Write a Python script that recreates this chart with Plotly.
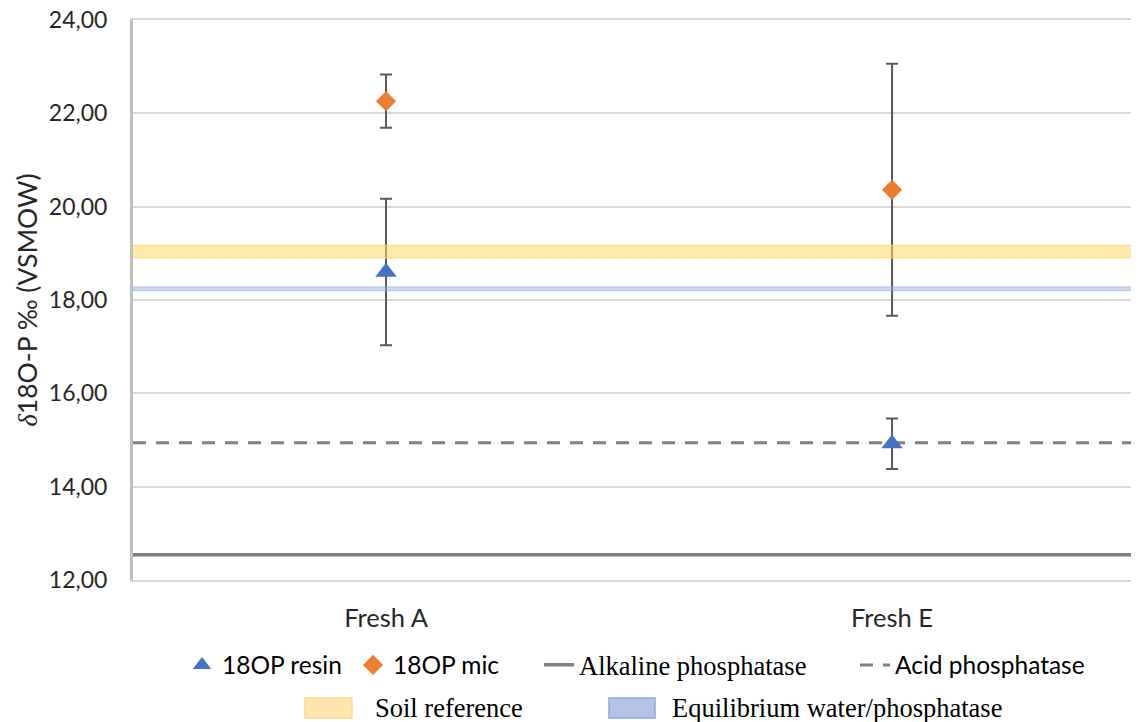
import plotly.graph_objects as go

categories = ["Fresh A", "Fresh E"]
resin_values = [18.60, 14.92]
resin_errors = [1.57, 0.54]
mic_values = [22.26, 20.36]
mic_errors = [0.57, 2.70]
alkaline_value = 12.54
acid_value = 14.94
soil_low, soil_high = 18.90, 19.17
equil_low, equil_high = 18.20, 18.28
y_ticks = [12, 14, 16, 18, 20, 22, 24]

xpos = [0, 1]
x_span = [-0.5, 1.5]

# page body has an 8px margin: figure is shifted by 8px right/down
OFF = 8
FIG_W, FIG_H = 1139 - OFF, 722 - OFF
PLOT_L, PLOT_T, PLOT_W, PLOT_H = 133, 20, 1006, 560   # in screen pixels

def px_x(p):
    return (p - PLOT_L) / PLOT_W

def px_y(p):
    return (PLOT_T + PLOT_H - p) / PLOT_H

SANS = "Lato, 'Open Sans', sans-serif"
SERIF = "'Liberation Serif', 'Times New Roman', serif"

fig = go.Figure()

fig.add_trace(go.Scatter(
    x=x_span, y=[alkaline_value] * 2, mode="lines", name="Alkaline phosphatase",
    line=dict(color="#7f7f7f", width=3.5), legend="legend3", hoverinfo="skip"))
fig.add_trace(go.Scatter(
    x=x_span, y=[acid_value] * 2, mode="lines", name="Acid phosphatase",
    line=dict(color="#808080", width=3, dash="13px,10px"), legend="legend4", hoverinfo="skip"))

fig.add_trace(go.Scatter(
    x=xpos, y=resin_values, mode="markers", name="18OP resin",
    marker=dict(symbol="triangle-up", size=18.5, color="#4472C4"),
    error_y=dict(type="data", array=resin_errors, color="#595959", thickness=2, width=6),
    legend="legend"))
fig.add_trace(go.Scatter(
    x=xpos, y=mic_values, mode="markers", name="18OP mic",
    marker=dict(symbol="diamond", size=15.5, color="#ED7D31"),
    error_y=dict(type="data", array=mic_errors, color="#595959", thickness=2, width=6),
    legend="legend2"))

# bands drawn above the series (semi-transparent), as in the reference
fig.add_trace(go.Scatter(
    x=[x_span[0], x_span[1], x_span[1], x_span[0], x_span[0]],
    y=[soil_low, soil_low, soil_high, soil_high, soil_low],
    mode="lines", fill="toself", showlegend=False,
    fillcolor="rgba(255,217,102,0.55)", line=dict(color="rgba(255,217,102,0.9)", width=1),
    hoverinfo="skip"))
fig.add_trace(go.Scatter(
    x=[x_span[0], x_span[1], x_span[1], x_span[0], x_span[0]],
    y=[equil_low, equil_low, equil_high, equil_high, equil_low],
    mode="lines", fill="toself", showlegend=False,
    fillcolor="rgba(142,169,219,0.45)", line=dict(color="rgba(142,169,219,0.6)", width=1),
    hoverinfo="skip"))

# legend entries for the bands (symbol drawn as a box shape below)
fig.add_trace(go.Scatter(
    x=[None], y=[None], mode="lines", name="Soil reference",
    line=dict(color="rgba(0,0,0,0)", width=1), legend="legend5"))
fig.add_trace(go.Scatter(
    x=[None], y=[None], mode="lines", name="Equilibrium water/phosphatase",
    line=dict(color="rgba(0,0,0,0)", width=1), legend="legend6"))

def leg(text_start, yp, family, size):
    return dict(x=px_x(text_start - 40), y=px_y(yp), xanchor="left", yanchor="middle",
                orientation="h", bgcolor="rgba(0,0,0,0)", borderwidth=0,
                font=dict(family=family, size=size, color="#000000"))

def box(x0, x1, y0, y1, fill, border):
    return dict(type="rect", xref="paper", yref="paper", layer="above",
                x0=px_x(x0), x1=px_x(x1), y0=px_y(y1), y1=px_y(y0),
                fillcolor=fill, line=dict(color=border, width=1.5))

fig.update_layout(
    width=FIG_W, height=FIG_H,
    margin=dict(l=PLOT_L - OFF, r=0, t=PLOT_T - OFF,
                b=FIG_H - (PLOT_T - OFF) - PLOT_H, autoexpand=False),
    plot_bgcolor="white", paper_bgcolor="white",
    separators=",.",
    showlegend=True,
    legend=leg(222, 665, SANS, 24.5),
    legend2=leg(393, 665, SANS, 24.5),
    legend3=leg(579, 665, SERIF, 26.5),
    legend4=leg(895, 665, SANS, 24.5),
    legend5=leg(375, 707, SERIF, 26.5),
    legend6=leg(672, 707, SERIF, 26.5),
    shapes=[
        box(305, 352, 698, 718, "#FFE6B0", "#FFD98C"),
        box(609, 655, 698, 718, "#B4C2E6", "#8FA5D9"),
    ],
    xaxis=dict(
        range=[-0.5, 1.488], tickmode="array", tickvals=xpos, ticktext=categories,
        showgrid=False, zeroline=False,
        showline=True, mirror=True, linecolor="#d9d9d9", linewidth=1.5,
        ticks="outside", ticklen=15, tickcolor="rgba(0,0,0,0)",
        tickfont=dict(family=SANS, size=25.5, color="#262626")),
    yaxis=dict(
        range=[12, 24], tickmode="array", tickvals=y_ticks, tickformat=".2f",
        showgrid=True, gridcolor="#d9d9d9", gridwidth=1.5, zeroline=False,
        showline=True, linecolor="#bfbfbf", linewidth=3,
        ticks="outside", ticklen=18, tickcolor="rgba(0,0,0,0)",
        ticklabeloverflow="allow",
        tickfont=dict(family=SANS, size=23, color="#262626"),
        title=dict(text="<span style=\"font-family:'Liberation Serif'\"><i>δ</i></span>18O-P ‰ (VSMOW)",
                   standoff=4,
                   font=dict(family=SANS, size=26.5, color="#262626"))),
)

fig.write_html("out.html")
